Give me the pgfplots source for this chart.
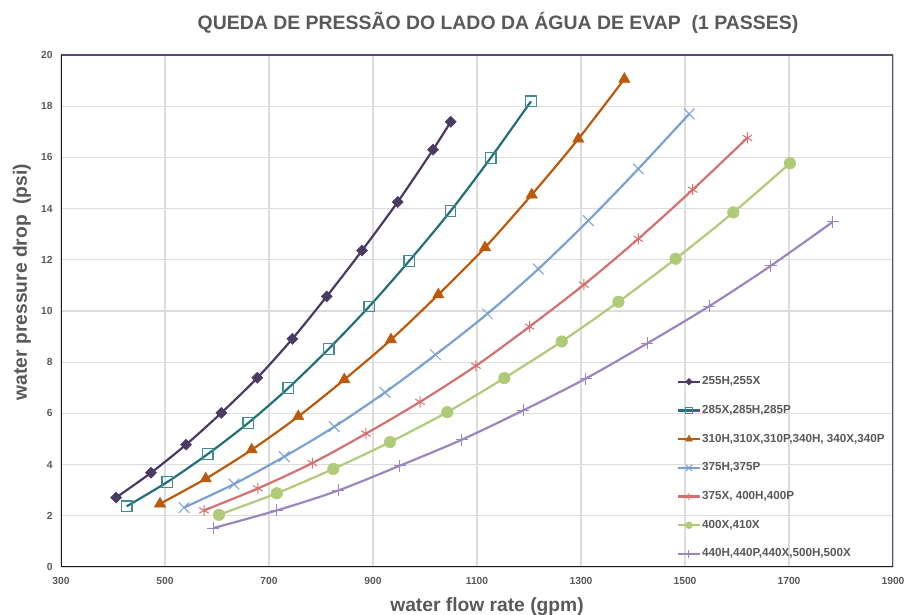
\documentclass[border=0pt]{standalone}
\usepackage{pgfplots}
\pgfplotsset{compat=1.18}
\usepackage{fontspec}
\setmainfont{Liberation Sans}
\definecolor{txtc}{HTML}{595959}
\definecolor{gridc}{HTML}{DDDDDD}
\definecolor{framec}{HTML}{5A4A78}
\definecolor{c1}{HTML}{4B3A63}
\definecolor{c2}{HTML}{21707A}
\definecolor{c2m}{HTML}{3F8C95}
\definecolor{c3}{HTML}{BC5A0C}
\definecolor{c4}{HTML}{7BA1D2}
\definecolor{c5}{HTML}{D4716E}
\definecolor{c6}{HTML}{AFCB7A}
\definecolor{c7}{HTML}{9D85BE}
\begin{document}
\begin{tikzpicture}
\path[use as bounding box] (0bp,0bp) rectangle (906bp,615bp);
\begin{axis}[
  at={(61bp,48bp)}, anchor=south west, scale only axis,
  width=832bp, height=512bp,
  xmin=300, xmax=1900, ymin=0, ymax=20,
  xtick={300,500,...,1900}, ytick={0,2,...,20},
  grid=major, major grid style={line width=1.1bp, color=gridc},
  axis line style={draw=none},
  tick style={draw=none},
  ticklabel style={font=\fontsize{10.3}{12}\selectfont\bfseries, text=txtc},
  /pgf/number format/assume math mode=true,
  /pgf/number format/1000 sep={},
  xticklabel style={yshift=-7bp},
  yticklabel style={xshift=-5bp},
  legend cell align=left,
  legend style={at={(0.740,0.373)}, anchor=north west, draw=none, fill=none,
    font=\fontsize{11.7}{14}\selectfont\bfseries, text=txtc,
    inner sep=0pt, row sep=17.7bp, column sep=1bp,
    nodes={inner sep=0pt, text height=8.5bp, text depth=2.5bp}},
  legend image code/.code={\draw[mark repeat=2, mark phase=2, every mark/.append style={scale=0.6}]
    plot coordinates {(0bp,0bp) (11bp,0bp) (22bp,0bp)};},
  every axis plot/.append style={line width=2.2bp, smooth},
]
\addplot[color=c1, mark=square*, mark size=3.9bp, mark options={fill=c1, rotate=45, solid, line width=0.5bp}] coordinates {
(405.8,2.71) (473,3.68) (540.4,4.78) (608.3,6.02) (677.5,7.39) (744.8,8.91) (811,10.57) (878.8,12.36) (947.5,14.26) (1015.4,16.30) (1049.4,17.39)};
\addlegendentry{255H,255X}
\addplot[color=c2, mark=square, mark size=5.3bp, mark options={draw=c2m, solid, line width=1.1bp}] coordinates {
(426.3,2.37) (504.4,3.32) (582.1,4.41) (660.2,5.63) (737.1,6.99) (814.8,8.52) (892.9,10.18) (969.8,11.96) (1049,13.90) (1126.3,15.98) (1203.8,18.19)};
\addlegendentry{285X,285H,285P}
\addplot[color=c3, mark=triangle*, mark size=6.5bp, mark options={fill=c3, solid, line width=0.5bp}] coordinates {
(490.4,2.47) (578.3,3.45) (666.7,4.58) (756.3,5.88) (844.8,7.32) (934.6,8.88) (1025.6,10.64) (1115.4,12.48) (1205.2,14.54) (1294.8,16.72) (1383.3,19.06)};
\addlegendentry{310H,310X,310P,340H, 340X,340P}
\addplot[color=c4, mark=x, mark size=7.5bp, mark options={solid, line width=1bp}] coordinates {
(536.5,2.32) (632.7,3.24) (729.4,4.31) (825.6,5.48) (923.1,6.82) (1020.2,8.29) (1119.8,9.89) (1217.9,11.64) (1314,13.53) (1410.2,15.55) (1508.2,17.70)};
\addlegendentry{375H,375P}
\addplot[color=c5, mark=asterisk, mark size=5.5bp, mark options={solid, line width=1bp}] coordinates {
(575,2.21) (678.8,3.07) (783.3,4.06) (886.5,5.21) (990.4,6.45) (1098,7.86) (1201,9.39) (1305.7,11.03) (1410.2,12.82) (1514.8,14.74) (1619.8,16.76)};
\addlegendentry{375X, 400H,400P}
\addplot[color=c6, mark=*, mark size=5.8bp, mark options={fill=c6, draw=c6, solid, line width=0.5bp}] coordinates {
(603.8,2.04) (714.8,2.88) (823.6,3.83) (932.7,4.88) (1042.9,6.05) (1152.5,7.38) (1262.9,8.81) (1372,10.36) (1482,12.04) (1592.9,13.85) (1701.9,15.77)};
\addlegendentry{400X,410X}
\addplot[color=c7, mark=+, mark size=6bp, mark options={solid, line width=1bp}] coordinates {
(592.9,1.52) (714.8,2.21) (833.3,2.99) (951.9,3.96) (1070.5,4.97) (1189,6.12) (1309,7.36) (1427.8,8.74) (1546.7,10.19) (1665.3,11.77) (1784,13.48)};
\addlegendentry{440H,440P,440X,500H,500X}
\draw[framec, line width=1.3bp] (rel axis cs:0,1) -- (rel axis cs:1,1) -- (rel axis cs:1,0);
\draw[black!90, line width=2.2bp] (rel axis cs:0,1) -- (rel axis cs:0,0) -- (rel axis cs:1,0);
\end{axis}
\node[font=\fontsize{19.5}{23}\selectfont\bfseries, text=txtc] at (498bp,592bp) {QUEDA DE PRESSÃO DO LADO DA ÁGUA DE EVAP\ \ (1 PASSES)};
\node[font=\fontsize{19.3}{23}\selectfont\bfseries, text=txtc] at (487bp,8.5bp) {water flow rate (gpm)};
\node[font=\fontsize{19.3}{23}\selectfont\bfseries, text=txtc, rotate=90] at (22bp,333bp) {water pressure drop\ \ (psi)};
\end{tikzpicture}
\end{document}
